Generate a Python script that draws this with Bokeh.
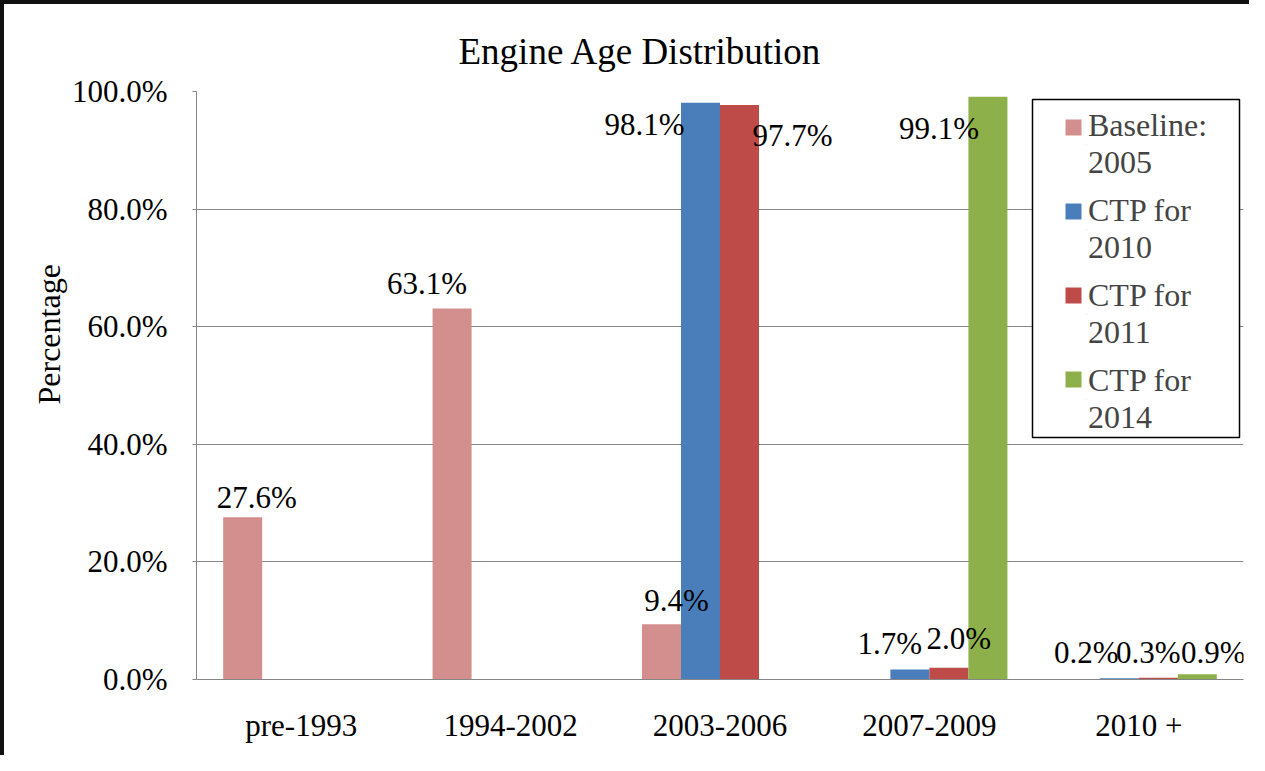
import math
from bokeh.plotting import figure
from bokeh.models import (FactorRange, Range1d, FixedTicker, PrintfTickFormatter,
                          Legend, LegendItem, Title, BoxAnnotation, ColumnDataSource)
from bokeh.transform import dodge
from bokeh.embed import file_html
from bokeh.resources import INLINE
from bokeh.core.properties import value

# ---------------- data ----------------
categories = ["pre-1993", "1994-2002", "2003-2006", "2007-2009", "2010 +"]
legend_line1 = ["Baseline:", "CTP for", "CTP for", "CTP for"]
legend_line2 = ["2005", "2010", "2011", "2014"]
baseline_2005 = [27.6, 63.1, 9.4, 0.0, 0.0]
ctp_2010 = [0.0, 0.0, 98.1, 1.7, 0.2]
ctp_2011 = [0.0, 0.0, 97.7, 2.0, 0.3]
ctp_2014 = [0.0, 0.0, 0.0, 99.1, 0.9]
y_ticks = [0, 20, 40, 60, 80, 100]
title_text = "Engine Age Distribution"
y_label = "Percentage"

# ---------------- style ----------------
FONT = "Liberation Serif"
colors = ["#D38E8E", "#4A7EBB", "#BE4B48", "#8EB04B"]
bar_w = 0.1863
dodges = [-1.5 * bar_w, -0.5 * bar_w, 0.5 * bar_w, 1.5 * bar_w]
# per-label pixel nudges (Excel manual label placement), None = no label
label_nudges = [
    [(14, -20), (-25, -25), (15, -24), None, None],
    [None, None, (-56, 22), (-20, -26), (-33, -26)],
    [None, None, (53, 30), (10, -29), (-10, -25)],
    [None, None, None, (-49, 32), (16, -22)],
]

p = figure(x_range=FactorRange(*categories), y_range=Range1d(0, 100),
           width=1249, height=755, output_backend="svg", toolbar_location=None,
           min_border_left=192, min_border_right=10, min_border_top=87, min_border_bottom=80,
           background_fill_color="white", border_fill_color="white", outline_line_color=None)
p.styles = {"border-left": "4px solid #111111", "border-top": "4px solid #111111"}

p.title = Title(text=title_text, align="left", offset=262, standoff=40,
                vertical_align="bottom", text_font=FONT, text_font_size="37px",
                text_font_style="normal", text_color="black")
p.add_layout(Title(text=y_label, align="left", offset=275, standoff=4,
                   vertical_align="bottom", text_font=FONT, text_font_size="32px",
                   text_font_style="normal", text_color="black"), "left")

p.xgrid.grid_line_color = None
p.ygrid.ticker = FixedTicker(ticks=y_ticks)
p.ygrid.grid_line_color = "#878787"
p.ygrid.grid_line_width = 1

p.yaxis.ticker = FixedTicker(ticks=y_ticks)
p.yaxis.formatter = PrintfTickFormatter(format="%.1f%%")
p.yaxis.major_tick_in = 0
p.yaxis.major_tick_out = 4
p.yaxis.minor_tick_line_color = None
p.yaxis.major_tick_line_color = "#868686"
p.yaxis.axis_line_color = "#868686"
p.yaxis.major_label_standoff = 25
p.yaxis.major_label_text_font = FONT
p.yaxis.major_label_text_font_size = "31px"
p.yaxis.major_label_text_color = "black"

p.xaxis.major_tick_line_color = None
p.xaxis.minor_tick_line_color = None
p.xaxis.axis_line_color = "#868686"
p.xaxis.major_label_standoff = 22
p.xaxis.major_label_text_font = FONT
p.xaxis.major_label_text_font_size = "31px"
p.xaxis.major_label_text_color = "black"

all_series = [baseline_2005, ctp_2010, ctp_2011, ctp_2014]
renderers = []
for i, vals in enumerate(all_series):
    src = ColumnDataSource(dict(cat=categories, val=vals))
    r = p.vbar(x=dodge("cat", dodges[i], range=p.x_range), top="val", width=bar_w,
               source=src, fill_color=colors[i], line_color=None)
    renderers.append(r)

# data labels drawn on top of all bars
for i, vals in enumerate(all_series):
    cats, ys, txt, dxs, dys = [], [], [], [], []
    for j, v in enumerate(vals):
        if v > 0 and label_nudges[i][j] is not None:
            cats.append(categories[j]); ys.append(v); txt.append(f"{v:.1f}%")
            dxs.append(label_nudges[i][j][0]); dys.append(label_nudges[i][j][1])
    lsrc = ColumnDataSource(dict(cat=cats, val=ys, txt=txt, dx=dxs, dy=dys))
    p.text(x=dodge("cat", dodges[i], range=p.x_range), y="val", text="txt",
           x_offset="dx", y_offset="dy", source=lsrc,
           text_font=value(FONT), text_font_size="31px", text_color="black",
           text_align="center", text_baseline="middle")

# legend frame
p.add_layout(BoxAnnotation(left=836, right=1043, bottom=242, top=580,
                           left_units="screen", right_units="screen",
                           bottom_units="screen", top_units="screen",
                           fill_color="white", fill_alpha=1.0,
                           line_color="black", line_width=1.5, line_alpha=1.0))
# legend swatches (aligned with first text line)
swatches = Legend(items=[LegendItem(label=" ", renderers=[renderers[i]]) for i in range(4)],
                  location=(867, 290), padding=0, margin=0, spacing=64,
                  glyph_width=20, glyph_height=20, label_standoff=0, label_width=0,
                  label_height=20, label_text_font_size="1px",
                  background_fill_alpha=0, border_line_color=None)
# legend texts (two lines per entry)
texts = Legend(items=[LegendItem(label=legend_line1[i] + "\n" + legend_line2[i],
                                 renderers=[renderers[i]]) for i in range(4)],
               location=(890, 243), padding=0, margin=0, spacing=11,
               glyph_width=1, glyph_height=1, label_standoff=1,
               label_text_font=FONT, label_text_font_size="32px",
               background_fill_alpha=0, border_line_color=None)
p.add_layout(swatches)
p.add_layout(texts)

open("out.html", "w").write(file_html(p, INLINE))
